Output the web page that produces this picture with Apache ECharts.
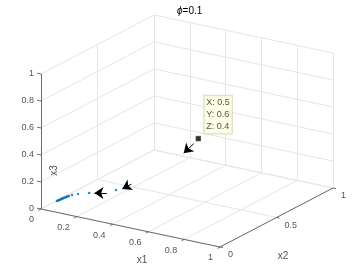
<!DOCTYPE html>
<html>
<head>
<meta charset="utf-8">
<script src="https://cdn.jsdelivr.net/npm/echarts@6/dist/echarts.min.js"></script>
<style>html,body{margin:0;padding:0;background:#fff;}#chart{width:354px;height:270px;}</style>
</head>
<body>
<div id="chart"></div>
<script>
// ---- data ----
const titleSymbol = 'ϕ';
const titleRest = '=0.1';
const x1Ticks = [0, 0.2, 0.4, 0.6, 0.8, 1];
const x1TickLabels = ['0', '0.2', '0.4', '0.6', '0.8', '1'];
const x2Ticks = [0, 0.5, 1];
const x2TickLabels = ['0', '0.5', '1'];
const x3Ticks = [0, 0.2, 0.4, 0.6, 0.8, 1];
const x3TickLabels = ['0', '0.2', '0.4', '0.6', '0.8', '1'];
const axisNames = ['x1', 'x2', 'x3'];

// trajectory points (x1, x2, x3)
const trajX1 = [0.153, 0.069, 0.033, 0.017, 0.012, 0.010, 0.009, 0.008, 0.007, 0.006, 0.006, 0.005, 0.005, 0.004, 0.004, 0.003, 0.003];
const trajX2 = [0.421, 0.316, 0.275, 0.248, 0.228, 0.219, 0.211, 0.204, 0.196, 0.189, 0.181, 0.174, 0.167, 0.159, 0.152, 0.145, 0.137];
const trajX3 = [0, 0, 0, 0, 0, 0, 0, 0, 0, 0, 0, 0, 0, 0, 0, 0, 0];

// quiver arrows: base point and vector
const arrowX1 = [0.50, 0.17, 0.14];
const arrowX2 = [0.56, 0.53, 0.36];
const arrowX3 = [0.38, 0.00, 0.00];
const arrowU = [-0.05, 0.00, -0.05];
const arrowV = [-0.01, -0.08, -0.03];
const arrowW = [-0.08, 0.00, 0.00];

// selected data tip point
const tipX = [0.5];
const tipY = [0.6];
const tipZ = [0.4];

// ---- 3D box projection (layout) ----
const ORIGIN = [41, 209];
const E1 = [179, 38];
const E2 = [113, -59];
const E3 = [0, -135];
function proj(a, b, c) {
  return [ORIGIN[0] + a * E1[0] + b * E2[0] + c * E3[0],
          ORIGIN[1] + a * E1[1] + b * E2[1] + c * E3[1]];
}
function unit(v, s) { const l = Math.hypot(v[0], v[1]); return [v[0] / l * s, v[1] / l * s]; }
function add(p, d) { return [p[0] + d[0], p[1] + d[1]]; }

// grid lines on back planes
const gridLines = [];
x1Ticks.forEach(x => { gridLines.push({coords: [proj(x, 0, 0), proj(x, 1, 0)]}); gridLines.push({coords: [proj(x, 1, 0), proj(x, 1, 1)]}); });
x2Ticks.forEach(y => { gridLines.push({coords: [proj(0, y, 0), proj(1, y, 0)]}); gridLines.push({coords: [proj(0, y, 0), proj(0, y, 1)]}); });
x3Ticks.forEach(z => { gridLines.push({coords: [proj(0, 0, z), proj(0, 1, z)]}); gridLines.push({coords: [proj(0, 1, z), proj(1, 1, z)]}); });

// axis lines
const axisLines = [
  {coords: [proj(0, 0, 0), proj(0, 0, 1)]},
  {coords: [proj(0, 0, 0), proj(1, 0, 0)]},
  {coords: [proj(1, 0, 0), proj(1, 1, 0)]}
];
const tickLines = [];
const dz = unit([-E1[0], -E1[1]], 4);
const dx = unit([-E2[0], -E2[1]], 3);
const dy = unit(E1, 3);
x3Ticks.forEach(z => { const p = proj(0, 0, z); tickLines.push({coords: [p, add(p, dz)]}); });
x1Ticks.forEach(x => { const p = proj(x, 0, 0); tickLines.push({coords: [p, add(p, dx)]}); });
x2Ticks.forEach(y => { const p = proj(1, y, 0); tickLines.push({coords: [p, add(p, dy)]}); });

const FONT = '"Liberation Sans", Arial, Helvetica, sans-serif';
const TXT = '#262626';

function labelSeries(data, align, offset, extra) {
  return {
    type: 'scatter', symbolSize: 0, silent: true, z: 5,
    data: data,
    label: Object.assign({
      show: true, position: 'inside', formatter: p => p.name,
      align: align, verticalAlign: 'middle', offset: offset,
      fontFamily: FONT, fontSize: 9, color: TXT
    }, extra || {})
  };
}

const x3LabelData = x3Ticks.map((z, i) => ({name: x3TickLabels[i], value: proj(0, 0, z)}));
const x1LabelData = x1Ticks.map((x, i) => ({name: x1TickLabels[i], value: proj(x, 0, 0)}));
const x2LabelData = x2Ticks.map((y, i) => ({name: x2TickLabels[i], value: proj(1, y, 0)}));

const trajData = trajX1.map((v, i) => proj(v, trajX2[i], trajX3[i]));
const arrowData = arrowX1.map((v, i) => ({coords: [proj(v, arrowX2[i], arrowX3[i]), proj(v + arrowU[i], arrowX2[i] + arrowV[i], arrowX3[i] + arrowW[i])]}));
const tipData = tipX.map((v, i) => ({value: proj(v, tipY[i], tipZ[i]), name: 'X: ' + v + '\nY: ' + tipY[i] + '\nZ: ' + tipZ[i]}));

const chart = echarts.init(document.getElementById('chart'), null, {renderer: 'canvas'});
chart.setOption({
  animation: false,
  backgroundColor: '#ffffff',
  title: {
    text: '{i|' + titleSymbol + '}' + titleRest,
    left: 172, top: 1,
    textStyle: {fontFamily: FONT, fontSize: 10, fontWeight: 'normal', color: '#000',
      rich: {i: {fontFamily: FONT, fontSize: 10, fontStyle: 'italic', color: '#000'}}}
  },
  grid: {left: 0, top: 0, right: 0, bottom: 0},
  xAxis: {type: 'value', min: 0, max: 354, show: false},
  yAxis: {type: 'value', min: 0, max: 270, inverse: true, show: false},
  series: [
    {type: 'lines', coordinateSystem: 'cartesian2d', silent: true, z: 1,
     lineStyle: {color: '#e6e6e6', width: 1, opacity: 1}, data: gridLines},
    {type: 'lines', coordinateSystem: 'cartesian2d', silent: true, z: 2,
     lineStyle: {color: '#4a4a4a', width: 0.8, opacity: 1}, data: axisLines.concat(tickLines)},
    labelSeries(x3LabelData, 'right', [-7, 0]),
    labelSeries(x1LabelData, 'right', [-7, 11]),
    labelSeries(x2LabelData, 'left', [8, 8]),
    labelSeries([{name: axisNames[0], value: proj(0.5, 0, 0)}], 'center', [11.5, 32], {fontSize: 10}),
    labelSeries([{name: axisNames[1], value: proj(1, 0.5, 0)}], 'center', [6.5, 38.5], {fontSize: 10}),
    labelSeries([{name: axisNames[2], value: proj(0, 0, 0.5)}], 'center', [-29, 13.5], {fontSize: 10, rotate: 90}),
    {type: 'scatter', silent: true, z: 3, symbol: 'circle', symbolSize: 2.6,
     itemStyle: {color: '#0072BD'}, data: trajData},
    {type: 'lines', coordinateSystem: 'cartesian2d', silent: true, z: 4,
     symbol: ['none', 'arrow'], symbolSize: 9,
     lineStyle: {color: '#000', width: 1, opacity: 1}, data: arrowData},
    {type: 'scatter', silent: true, z: 6, symbol: 'rect', symbolSize: 5.5,
     itemStyle: {color: '#000', borderColor: '#fffde0', borderWidth: 0.5}, data: tipData,
     label: {show: true, position: 'right', distance: 3, offset: [0, -24],
       formatter: p => p.name, fontFamily: FONT, fontSize: 9, color: TXT, lineHeight: 12.3,
       backgroundColor: '#ffffe1', borderColor: '#cfcfb8', borderWidth: 1, padding: [1, 2, 0, 2]}}
  ]
});
</script>
</body>
</html>
